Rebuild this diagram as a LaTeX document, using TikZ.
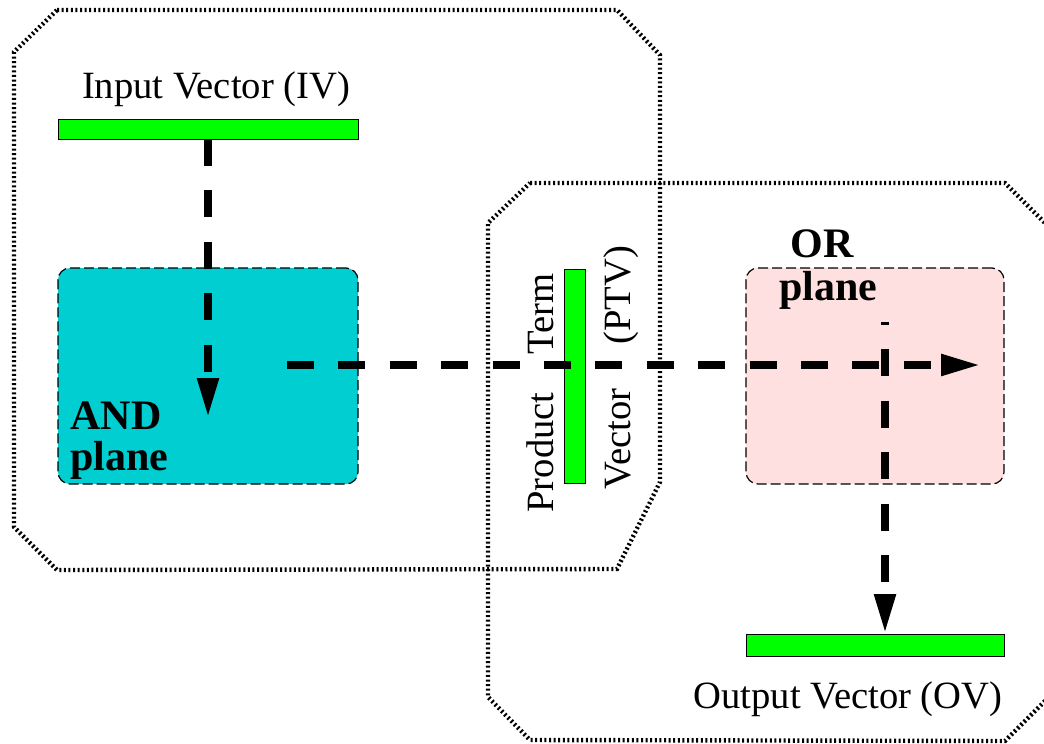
\documentclass[tikz,border=0pt]{standalone}
\usepackage{fontspec}
\setmainfont{Liberation Serif}
\usetikzlibrary{arrows.meta}
\definecolor{vecgreen}{RGB}{0,255,0}
\definecolor{andfill}{RGB}{0,206,209}
\definecolor{orfill}{RGB}{255,224,224}
\begin{document}
\begin{tikzpicture}[x=0.5pt,y=-0.5pt,
  bar/.style={draw=black, line width=0.5pt, fill=vecgreen, inner sep=0pt, outer sep=0pt},
  planebox/.style={draw=black, line width=0.6pt, dash pattern=on 5pt off 2pt,
    rounded corners=6pt, inner sep=0pt, outer sep=0pt},
  region/.style={line width=2.2pt, dash pattern=on 1pt off 1.3pt},
  flow/.style={line width=4pt, dash pattern=on 13.5pt off 12.2pt,
    -{Triangle[length=20pt,width=10pt]}},
  lbl/.style={font=\fontsize{19.3}{23}\selectfont, inner sep=0pt},
  blbl/.style={font=\fontsize{21}{25}\selectfont\bfseries, inner sep=0pt}]
\useasboundingbox (0,0) rectangle (1044,744);

% dotted outlines of the two planes
\draw[region] (57,10) -- (617,10) -- (660,55) -- (660,482) -- (617,569)
  -- (57,570) -- (14,527) -- (14,52) -- cycle;
\draw[region] (530,183) -- (1005,183) -- (1048,226) -- (1048,698) -- (1005,741)
  -- (530,740) -- (488,697) -- (488,223) -- cycle;

% vectors and plane blocks
\node[bar, minimum width=150pt, minimum height=10pt] (iv) at (208,129) {};
\node[planebox, fill=andfill, minimum width=150pt, minimum height=108pt] (and) at (208,376) {};
\node[planebox, fill=orfill, minimum width=129pt, minimum height=108pt] (or) at (875,376) {};
\node[bar, minimum width=10.5pt, minimum height=107pt] (ptv) at (574.5,376) {};
\node[bar, minimum width=129pt, minimum height=11pt] (ov) at (875,645) {};

% labels
\node[lbl, anchor=base] (ivl) at (216,98) {Input Vector (IV)};
\node[lbl, anchor=base] (ovl) at (848,708) {Output Vector (OV)};
\node[blbl, anchor=base west] (andl1) at (70,429) {AND};
\node[blbl, anchor=base west] (andl2) at (70,470) {plane};
\node[blbl, anchor=base west] (orl1) at (790,257) {OR};
\node[blbl, anchor=base west] (orl2) at (779,300) {plane};
\node[lbl, rotate=90, anchor=base west] (ptl1) at (553,513) {Product};
\node[lbl, rotate=90, anchor=base west] (ptl2) at (553,355) {Term};
\node[lbl, rotate=90, anchor=base west] (ptl3) at (630,490) {Vector};
\node[lbl, rotate=90, anchor=base west] (ptl4) at (630,345) {(PTV)};

% data flow
\coordinate (andin) at (208,418);
\coordinate (h0) at (287,365);
\coordinate (h1) at (981,365);
\coordinate (v0) at (885,322);
\draw[flow] (iv.south) -- (andin);
\draw[flow] (h0) -- (h1);
\draw[flow, dash phase=12pt] (v0) -- (v0 |- ov.north);
\end{tikzpicture}
\end{document}
